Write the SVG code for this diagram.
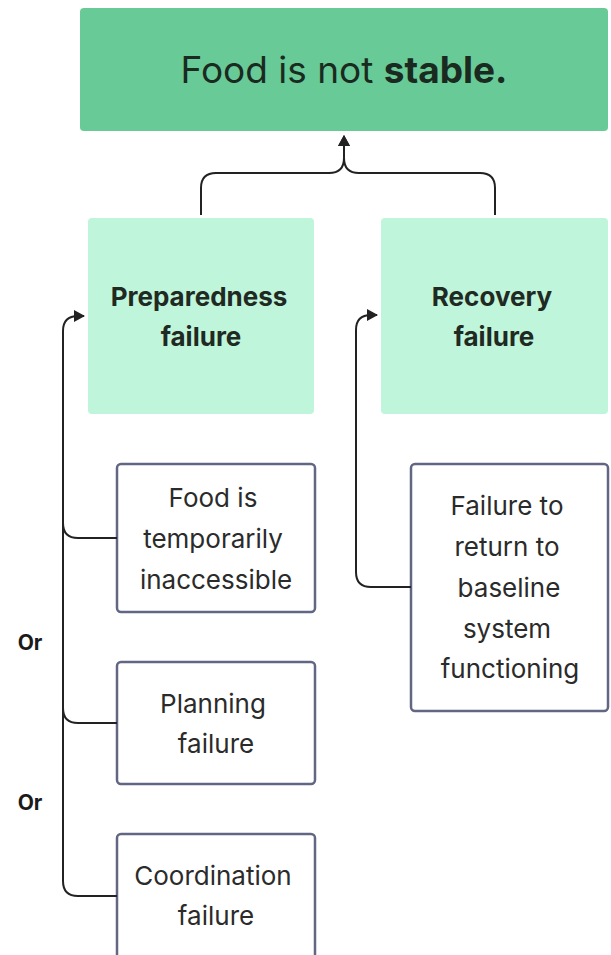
<svg xmlns="http://www.w3.org/2000/svg" width="611" height="955" viewBox="0 0 611 955">
<style>
.t{font-family:Inter,"Liberation Sans",sans-serif;fill:#2b2b2b;text-anchor:middle;font-size:26px}
.b{font-weight:bold;fill:#1f2a22}
.box{fill:#fff;stroke:#606683;stroke-width:2.5}
.con{fill:none;stroke:#222;stroke-width:2}
</style>
<defs>
<marker id="ah" markerWidth="12" markerHeight="12" refX="10" refY="6" orient="auto" markerUnits="userSpaceOnUse">
<path d="M0,0 L11,6 L0,12 Z" fill="#222"/>
</marker>
</defs>
<rect width="611" height="955" fill="#fff"/>
<g id="top">
<rect x="80" y="8" width="528" height="123" rx="4" fill="#68CB97"/>
<text class="t" x="344" y="83" style="font-size:37px;fill:#1b2a20">Food is not <tspan font-weight="bold">stable.</tspan></text>
</g>
<g id="preparedness">
<rect x="88" y="218" width="226" height="196" rx="4" fill="#BFF5DB"/>
<text class="t b" x="199" y="306">Preparedness</text>
<text class="t b" x="201" y="346">failure</text>
</g>
<g id="recovery">
<rect x="381" y="218" width="227" height="196" rx="4" fill="#BFF5DB"/>
<text class="t b" x="492" y="306">Recovery</text>
<text class="t b" x="494" y="346">failure</text>
</g>
<g id="inaccessible">
<rect class="box" x="117" y="464" width="198" height="148" rx="4"/>
<text class="t" x="213" y="507">Food is</text>
<text class="t" x="213" y="548">temporarily</text>
<text class="t" x="216" y="589">inaccessible</text>
</g>
<g id="planning">
<rect class="box" x="117" y="662" width="198" height="122" rx="4"/>
<text class="t" x="213" y="713">Planning</text>
<text class="t" x="216" y="753">failure</text>
</g>
<g id="coordination">
<rect class="box" x="117" y="834" width="198" height="140" rx="4"/>
<text class="t" x="213" y="885">Coordination</text>
<text class="t" x="216" y="925">failure</text>
</g>
<g id="baseline">
<rect class="box" x="411" y="464" width="197" height="247" rx="4"/>
<text class="t" x="507" y="515">Failure to</text>
<text class="t" x="507" y="556">return to</text>
<text class="t" x="509" y="597">baseline</text>
<text class="t" x="507" y="638">system</text>
<text class="t" x="510" y="678">functioning</text>
</g>
<g id="labels">
<text class="t b" x="30" y="650" style="font-size:21px;fill:#1a1a1a">Or</text>
<text class="t b" x="30" y="810" style="font-size:21px;fill:#1a1a1a">Or</text>
</g>
<g id="connectors">
<path class="con" d="M201,215 V188 Q201,173 216,173 H329 Q344,173 344,158 V136" marker-end="url(#ah)"/>
<path class="con" d="M495,215 V188 Q495,173 480,173 H359 Q344,173 344,158 V136" marker-end="url(#ah)"/>
<path class="con" d="M117,896 H78 Q63,896 63,881 V331 Q63,316 78,316 H84" marker-end="url(#ah)"/>
<path class="con" d="M117,538 H78 Q63,538 63,523"/>
<path class="con" d="M117,723 H78 Q63,723 63,708"/>
<path class="con" d="M411,587 H371 Q356,587 356,572 V330 Q356,315 371,315 H377" marker-end="url(#ah)"/>
</g>
</svg>
